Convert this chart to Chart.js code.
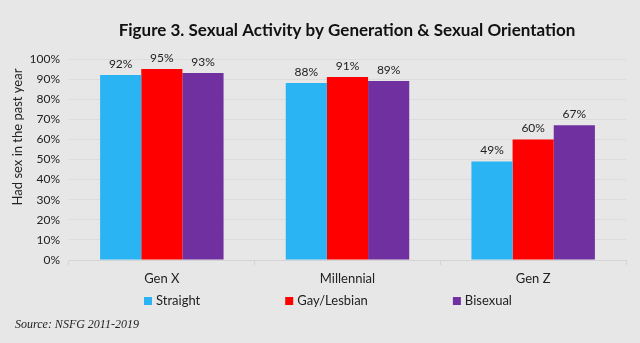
<!DOCTYPE html>
<html>
<head>
<meta charset="utf-8">
<script src="https://cdn.jsdelivr.net/npm/chart.js@4"></script>
<style>
  html, body { margin: 0; padding: 0; background: #e7e7e7; }
  #wrap { width: 640px; height: 343px; }
</style>
</head>
<body>
<div id="wrap"><canvas id="chart" width="640" height="343"></canvas></div>
<script>
const generations = ['Gen X', 'Millennial', 'Gen Z'];
const straight = [92, 88, 49];
const gayLesbian = [95, 91, 60];
const bisexual = [93, 89, 67];
const yTicks = [0, 10, 20, 30, 40, 50, 60, 70, 80, 90, 100];

const colors = ['#2ab4f4', '#ff0000', '#7030a0'];

Chart.defaults.font.family = 'Lato';
Chart.defaults.color = '#222';

// value labels above each bar
const barLabels = {
  id: 'barLabels',
  afterDatasetsDraw(chart) {
    const ctx = chart.ctx;
    ctx.save();
    ctx.font = '12px Lato';
    ctx.fillStyle = '#222';
    ctx.textAlign = 'center';
    ctx.textBaseline = 'bottom';
    chart.data.datasets.forEach((ds, i) => {
      chart.getDatasetMeta(i).data.forEach((bar, j) => {
        ctx.fillText(ds.data[j] + '%', bar.x, bar.y - 5);
      });
    });
    ctx.restore();
  }
};

// title, axis title, spread-out legend and source note like the original
const extras = {
  id: 'extras',
  afterDraw(chart) {
    const ctx = chart.ctx;
    ctx.save();
    ctx.fillStyle = '#111';
    ctx.textAlign = 'center';
    ctx.textBaseline = 'middle';
    ctx.font = 'bold 17px Lato';
    ctx.fillText('Figure 3. Sexual Activity by Generation & Sexual Orientation', 347, 31);

    ctx.save();
    ctx.translate(18, 137);
    ctx.rotate(-Math.PI / 2);
    ctx.font = '13px Lato';
    ctx.fillStyle = '#222';
    ctx.fillText('Had sex in the past year', 0, 0);
    ctx.restore();

    ctx.font = '13px Lato';
    let x = 144;
    const y = 301;
    chart.data.datasets.forEach((ds) => {
      ctx.fillStyle = ds.backgroundColor;
      ctx.fillRect(x, y - 4, 8, 8);
      ctx.fillStyle = '#222';
      ctx.textAlign = 'left';
      ctx.fillText(ds.label, x + 12, y);
      x += 12 + ctx.measureText(ds.label).width + 85;
    });
    ctx.font = 'italic 12px "Liberation Serif"';
    ctx.fillText('Source: NSFG 2011-2019', 15, 325);
    ctx.restore();
  }
};

new Chart(document.getElementById('chart'), {
  type: 'bar',
  data: {
    labels: generations,
    datasets: [
      { label: 'Straight', data: straight, backgroundColor: colors[0] },
      { label: 'Gay/Lesbian', data: gayLesbian, backgroundColor: colors[1] },
      { label: 'Bisexual', data: bisexual, backgroundColor: colors[2] },
    ],
  },
  options: {
    responsive: false,
    animation: false,
    layout: { padding: { left: 9, right: 14, top: 59, bottom: 0 } },
    datasets: {
      bar: { categoryPercentage: 0.665, barPercentage: 1.0 },
    },
    plugins: {
      legend: { display: false },
      tooltip: { enabled: false },
    },
    scales: {
      x: {
        grid: { drawOnChartArea: false, drawTicks: true, tickLength: 5, color: '#d4d4d4' },
        border: { color: '#d4d4d4' },
        ticks: { font: { size: 13 }, color: '#222', padding: 6 },
        afterFit(scale) { scale.height = 83; },
      },
      y: {
        min: 0,
        max: 100,
        afterBuildTicks(scale) { scale.ticks = yTicks.map(v => ({ value: v })); },
        grid: { color: '#dcdcdc', drawTicks: false },
        border: { display: false },
        ticks: { font: { size: 12 }, color: '#222', padding: 9, callback: v => v + '%' },
        afterFit(scale) { scale.width = 60; },
      },
    },
  },
  plugins: [barLabels, extras],
});
</script>
</body>
</html>
